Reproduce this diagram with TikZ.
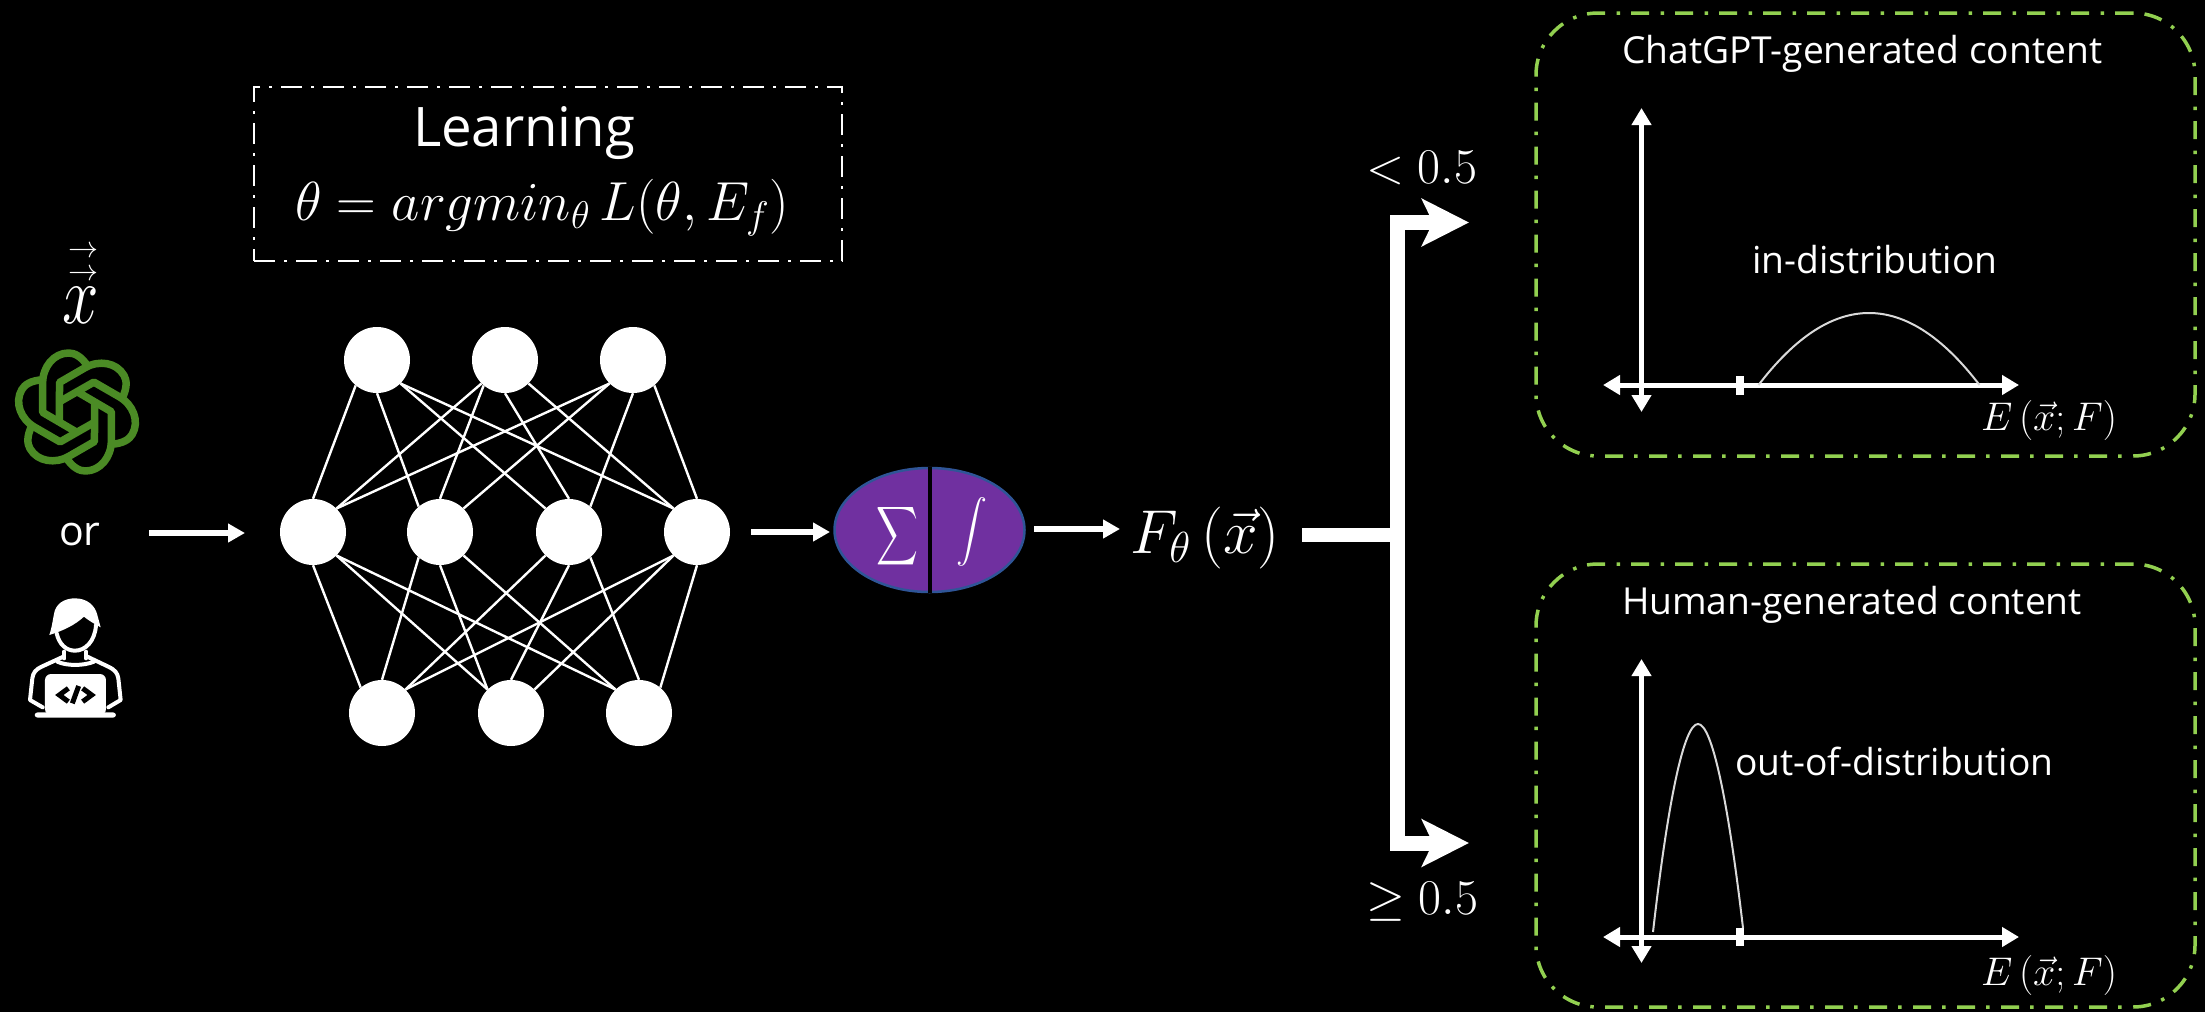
\RequirePackage{fix-cm}
\documentclass[tikz,border=0pt]{standalone}
\usepackage{fontspec}
\setmainfont{Open Sans}
\usetikzlibrary{arrows.meta,shapes.geometric}
\newcommand{\szf}[1]{\fontsize{#1}{#1}\selectfont}
\definecolor{boxgreen}{HTML}{92D050}
\definecolor{logogreen}{HTML}{4B8B25}
\definecolor{ovalfill}{HTML}{7030A0}
\definecolor{ovaledge}{HTML}{2F5597}
\tikzset{
  x=1pt,y=-1pt,
  neuron/.style={circle,fill=white,draw=none,minimum size=66pt,inner sep=0pt},
  synapse/.style={draw=white,line width=2.4pt},
  txt/.style={text=white,inner sep=0pt,outer sep=0pt,anchor=base west},
  flow/.style={draw=white,line width=6pt,-{Triangle[length=17pt,width=18pt]}},
  thick flow/.style={draw=white,line width=15pt,line join=miter,-{Stealth[length=47pt,width=47pt,inset=11pt]}},
  greenbox/.style={draw=boxgreen,line width=3.5pt,rounded corners=62pt,minimum width=659pt,minimum height=443pt,inner sep=0pt,dash pattern=on 18pt off 11pt on 3.5pt off 11.5pt},
  axis/.style={draw=white,line width=5pt,{Triangle[length=17pt,width=19pt]}-{Triangle[length=17pt,width=19pt]}},
  tickmark/.style={draw=white,line width=8pt},
  density/.style={draw=white!85!black,line width=2pt},
  logostrand/.style={draw=logogreen,line width=7.5pt,line join=round},
  iconline/.style={draw=white,line width=4pt,line cap=round,line join=round},
  codeglyph/.style={draw=black,line width=5pt},
}
\begin{document}
\begin{tikzpicture}
\path[fill=black,use as bounding box] (0,0) rectangle (2205,1012);

% learning box
\node[draw=white,line width=2.6pt,minimum width=588pt,minimum height=174pt,inner sep=0pt,dash pattern=on 21pt off 9pt on 3pt off 9pt] (learnbox) at (548,174) {};
\node[txt] (learning) at (413,146) {\szf{54.5}Learning};
\node[txt] (formula) at (295,220) {\szf{55}$\theta=argmin_\theta\,L(\theta,E_f)$};

% input column: x with two arrows above it
\node[txt,anchor=north] (xvar) at (81,257.5) {\vbox{\offinterlineskip
  \hbox to 46pt{\hskip 5pt\hfil\smash{\szf{30}$\rightarrow$}\hfil}\kern23pt
  \hbox to 46pt{\hskip 5pt\hfil\smash{\szf{30}$\rightarrow$}\hfil}\kern42.5pt
  \hbox to 46pt{\hfil\smash{\szf{84}\scalebox{0.78}[1]{$x$}}\hfil}}};

% OpenAI-style logo
\foreach \a in {0,60,...,300}{
  \begin{scope}[shift={(77,412)},rotate=\a,scale=1/3]
    \draw[logostrand] (32,-138) .. controls (12,-168) and (-8,-177) .. (-25,-177)
      .. controls (-70,-177) and (-103,-135) .. (-103,-87) -- (-103,1) -- (-2,60);
  \end{scope}
}

\node[txt] (orlabel) at (59,545) {\szf{41}or};

% programmer icon
\begin{scope}[shift={(0,220)},scale=1/3]
  \fill[white] (148,1245) .. controls (158,1215) and (158,1195) .. (165,1170)
     .. controls (175,1145) and (200,1135) .. (225,1135)
     .. controls (260,1135) and (285,1155) .. (292,1185)
     -- (302,1222) .. controls (285,1212) and (270,1205) .. (252,1190)
     .. controls (225,1215) and (190,1232) .. (148,1245) -- cycle;
  \draw[iconline] (170,1240) .. controls (178,1275) and (200,1292) .. (225,1292)
     .. controls (255,1292) and (285,1265) .. (288,1215);
  \draw[iconline] (193,1295) -- (193,1315) (258,1295) -- (258,1315);
  \draw[iconline] (190,1310) -- (125,1340) .. controls (105,1350) and (100,1358) .. (97,1375)
     -- (90,1440) -- (128,1462);
  \draw[iconline] (262,1310) -- (325,1340) .. controls (345,1350) and (352,1358) .. (355,1375)
     -- (362,1440) -- (325,1462);
  \draw[iconline] (172,1325) .. controls (200,1338) and (250,1338) .. (282,1325);
  \fill[white,rounded corners=6pt] (135,1362) rectangle (318,1485);
  \fill[white,rounded corners=3pt] (104,1477) rectangle (348,1493);
  \draw[codeglyph] (205,1405) -- (178,1425) -- (205,1445);
  \draw[codeglyph] (248,1405) -- (275,1425) -- (248,1445);
  \draw[codeglyph] (236,1398) -- (217,1450);
\end{scope}

% network
\node[neuron] (t1) at (377,360) {};
\node[neuron] (t2) at (505,360) {};
\node[neuron] (t3) at (633,360) {};
\node[neuron] (m1) at (313,532) {};
\node[neuron] (m2) at (440,532) {};
\node[neuron] (m3) at (569,532) {};
\node[neuron] (m4) at (697,532) {};
\node[neuron] (b1) at (382,713) {};
\node[neuron] (b2) at (511,713) {};
\node[neuron] (b3) at (639,713) {};
\foreach \p/\q in {
  t1.-130/m1.north, t1.south/m2.130, t1.-45/m3.135, t1.-45/m4.135,
  t2.-135/m1.45, t2.-130/m2.north, t2.south/m3.north, t2.-45/m4.135,
  t3.-135/m1.45, t3.-135/m2.45, t3.south/m3.50, t3.-50/m4.north,
  m1.south/b1.130, m1.-45/b2.135, m1.-45/b3.135,
  m2.-130/b1.north, m2.south/b2.135, m2.-45/b3.135,
  m3.-135/b1.45, m3.south/b2.north, m3.-50/b3.north,
  m4.-135/b1.45, m4.-135/b2.45, m4.south/b3.50}{
  \draw[synapse] (\p) -- (\q);
}

% aggregator
\node[ellipse,draw=ovaledge,line width=2.5pt,fill=ovalfill,minimum width=190pt,minimum height=124pt,inner sep=0pt] (oval) at (929.5,530) {};
\draw[black,line width=4pt] (oval.north) -- (oval.south);
\node[txt,anchor=center] (sumsym) at (897,536) {\scalebox{2.9}[4.1]{$\displaystyle\sum$}};
\node[txt,anchor=center] (intsym) at (972,532) {\scalebox{3.1}{$\displaystyle\int$}};

% flow arrows
\coordinate (inA) at (149,533);
\coordinate (inB) at (245,533);
\coordinate (outA) at (751,532);
\coordinate (outB) at (830,532);
\coordinate (fA) at (1034,529);
\coordinate (fB) at (1120,529);
\draw[flow] (inA) -- (inB);
\draw[flow] (outA) -- (outB);
\draw[flow] (fA) -- (fB);

\node[txt] (fx) at (1130,553) {\szf{62}$F_\theta\,(\vec{x})$};

% decision bracket
\coordinate (feed) at (1302,535);
\coordinate (junction) at (1397.5,535);
\coordinate (cornertop) at (1397.5,222.5);
\coordinate (cornerbot) at (1397.5,843);
\coordinate (tiptop) at (1469,222.5);
\coordinate (tipbot) at (1469,843);
\draw[draw=white,line width=14.5pt] (feed) -- (junction);
\draw[thick flow] (junction) -- (cornertop) -- (tiptop);
\draw[thick flow] (junction) -- (cornerbot) -- (tipbot);
\node[txt] (lt) at (1366,183) {\szf{50}$<0.5$};
\node[txt] (ge) at (1366,914) {\szf{50}$\geq0.5$};

% upper panel
\node[greenbox] (panelA) at (1865.5,234.5) {};
\node[txt] (titleA) at (1622,63) {\szf{37.2}ChatGPT-generated content};
\node[txt] (inlab) at (1752,273) {\szf{37.2}in-distribution};
\coordinate (aY1) at (1641.5,108);
\coordinate (aY2) at (1641.5,412);
\coordinate (aX1) at (1603,385);
\coordinate (aX2) at (2019,385);
\draw[axis] (aY1) -- (aY2);
\draw[axis] (aX1) -- (aX2);
\coordinate (aT1) at (1740,376);
\coordinate (aT2) at (1740,395);
\draw[tickmark] (aT1) -- (aT2);
\coordinate (aC1) at (1758.5,385);
\coordinate (aC2) at (1979.5,385);
\draw[density] (aC1) .. controls (1832,289) and (1906,289) .. (aC2);
\node[txt] (eA) at (1981,430) {\szf{40}$E\,(\vec{x};F)$};

% lower panel
\node[greenbox] (panelB) at (1865.5,785.5) {};
\node[txt] (titleB) at (1622,614) {\szf{37.2}Human-generated content};
\node[txt] (outlab) at (1735,775) {\szf{37.2}out-of-distribution};
\coordinate (bY1) at (1641.5,659);
\coordinate (bY2) at (1641.5,963);
\coordinate (bX1) at (1603,937);
\coordinate (bX2) at (2019,937);
\draw[axis] (bY1) -- (bY2);
\draw[axis] (bX1) -- (bX2);
\coordinate (bT1) at (1740,928);
\coordinate (bT2) at (1740,946);
\draw[tickmark] (bT1) -- (bT2);
\coordinate (bC1) at (1653,932);
\coordinate (bPk) at (1698,724);
\coordinate (bC2) at (1743,928);
\draw[density] (bC1) .. controls (1668,800) and (1684,724) .. (bPk) .. controls (1712,724) and (1728,800) .. (bC2);
\node[txt] (eB) at (1981,985) {\szf{40}$E\,(\vec{x};F)$};
\end{tikzpicture}
\end{document}
